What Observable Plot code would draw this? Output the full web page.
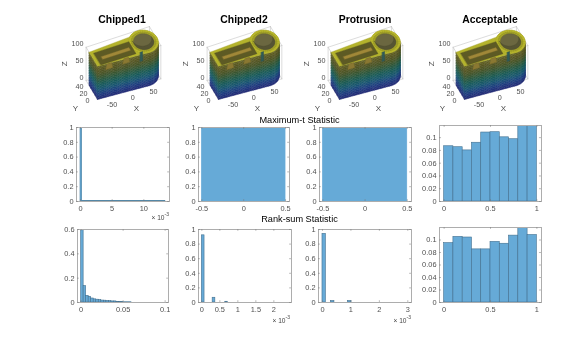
<!DOCTYPE html>
<html><head><meta charset="utf-8">
<script src="https://cdn.jsdelivr.net/npm/d3@7"></script>
<script src="https://cdn.jsdelivr.net/npm/@observablehq/plot@0.6"></script>
<style>
html,body{margin:0;padding:0;background:#fff;}
#c{position:relative;width:588px;height:340px;overflow:hidden;font-family:"Liberation Sans",Arial,sans-serif;filter:blur(.3px);}
#c svg{position:absolute;background:transparent;overflow:visible;}
.t{position:absolute;transform:translate(-50%,-50%);white-space:nowrap;color:#000;}
.m{position:absolute;font-size:6.6px;color:#444;white-space:nowrap;transform:translate(-100%,-50%);}
.m sup{font-size:5px;line-height:0;}
</style></head><body><div id="c"></div>
<script>
// ---------- titles
const partTitles = ["Chipped1","Chipped2","Protrusion","Acceptable"];
const partCentres = [122,244,365,490];
const partAnchors = [96.7,218,339.3,464];
const sections = ["Maximum-t Statistic","Rank-sum Statistic"];

// ---------- histogram values
// row 2: maximum-t statistic
const maxt1Edges = [0,0.27,13.4];
const maxt1Vals  = [1,0.006];
const maxt2Edges = [-0.5,0.5];
const maxt2Vals  = [1];
const maxt3Edges = [-0.5,0.5];
const maxt3Vals  = [1];
const maxt4Edges = [0,0.1,0.2,0.3,0.4,0.5,0.6,0.7,0.8,0.9,1];
const maxt4Vals  = [0.0865,0.085,0.08,0.092,0.108,0.1085,0.1005,0.0975,0.125,0.125];
// row 3: rank-sum statistic
const rank1Edges = [0,0.003,0.006,0.009,0.012,0.015,0.018,0.021,0.024,0.027,0.03,0.033,0.036,0.039,0.042,0.045,0.05,0.06];
const rank1Vals  = [0.65,0.135,0.055,0.047,0.033,0.026,0.023,0.02,0.016,0.015,0.013,0.011,0.009,0.009,0.005,0.004,0.002];
const rank2Edges = [0,0.075,0.3,0.375,0.65,0.72];
const rank2Vals  = [0.92,0,0.065,0,0.01];
const rank3Edges = [0,0.12,0.3,0.42,0.9,1.02];
const rank3Vals  = [0.94,0,0.02,0,0.02];
const rank4Edges = maxt4Edges;
const rank4Vals  = [0.095,0.105,0.104,0.085,0.085,0.097,0.094,0.107,0.125,0.108];

// ---------- 3D part model (X, Y, Z in the part's axes)
const boxX = [-85,68], boxY = [0,57], boxZ = [0,100];
const xTicks3d = [-50,0,50], yTicks3d = [0,20,40], zTicks3d = [0,50,100];
const hubX = 38, hubY = 24, hubR = 32, holeR = 22;
const frontEnd = [38,-8];
const backEdge = [[-85,42],[14,47]];
const pocket = [[-77,0],[8,0],[8,36],[-77,36]];
const shelf = [[-66,13],[1,13],[1,21],[-66,21]];
const windows = [[-65,-48],[-24,-7]];
const slotX = [18,24], slotZ = [72,100];
const wallStops = [[0,"#242a78"],[15,"#213f88"],[30,"#1b5a78"],[45,"#1a5f5c"],[60,"#305c40"],[75,"#4c5a2a"],[90,"#5d5a24"],[100,"#6a6826"]];

const root = document.getElementById("c");
const proj = (X,Y,Z) => [0.414*(X+85) - 0.2*Y, -0.135*(X+85) - 0.333*Y - 0.333*Z];
function wallColor(z){
  const xs = wallStops.map(d=>d[0]);
  const i = Math.min(d3.bisectRight(xs,z),xs.length-1);
  const a = wallStops[i-1]||wallStops[0], b = wallStops[i];
  return d3.interpolateRgb(a[1],b[1])(b[0]===a[0]?0:(z-a[0])/(b[0]-a[0]));
}
function buildPart(){
  const rows=[]; let id=0;
  const poly=(pts,fill)=>{const k=id++;for(const p of pts){const [x,y]=proj(...p);rows.push({id:k,x,y,fill});}};
  const zs=d3.range(0,100,5);
  const wall=(a,b)=>{ for(const z of zs){ poly([[a[0],a[1],z],[b[0],b[1],z],[b[0],b[1],z+5],[a[0],a[1],z+5]],wallColor(z+2.5)); } };
  const deg=Math.PI/180;
  const at=(r,t)=>[hubX+r*Math.cos(t*deg),hubY+r*Math.sin(t*deg)];
  // right side of the hub, seen from the front
  for(let t=-26;t>-90;t-=8) wall(at(hubR,t-8),at(hubR,t));
  // long front wall
  const n=24;
  for(let i=n-1;i>=0;i--){
    const p=i/n,q=(i+1)/n;
    wall([-85+p*(frontEnd[0]+85),p*frontEnd[1]],[-85+q*(frontEnd[0]+85),q*frontEnd[1]]);
  }
  // left end wall
  for(let i=0;i<4;i++) wall([-85,(i+1)*10.5],[-85,i*10.5]);
  // top plan
  const plan=[[-85,0,100],[frontEnd[0],frontEnd[1],100]];
  for(let t=-90;t<=130;t+=10){const p=at(hubR,t);plan.push([p[0],p[1],100]);}
  for(const p of [backEdge[1],backEdge[0]]) plan.push([p[0],p[1],100]);
  poly(plan,"#b4b32c");
  // hub ring
  for(let t=0;t<360;t+=10){
    const p=at(hubR,t),q=at(hubR,t+10),u=at(holeR,t+10),v=at(holeR,t);
    const m=at((hubR+holeR)/2,t),w=at((hubR+holeR)/2,t+10);
    poly([[p[0],p[1],100],[q[0],q[1],100],[w[0],w[1],100],[m[0],m[1],100]],"#bdbc2e");
    poly([[m[0],m[1],100],[w[0],w[1],100],[u[0],u[1],100],[v[0],v[1],100]],"#a5a42a");
  }
  // hole
  const hole=[]; for(let t=0;t<360;t+=10){const p=at(holeR,t);hole.push([p[0],p[1],100]);}
  poly(hole,"#6b6740");
  const low=[]; for(let t=180;t<360;t+=10){const p=at(holeR,t);low.push([p[0],p[1],100]);} for(let t=350;t>=180;t-=10){const p=at(holeR,t);low.push([p[0],p[1]+10,100]);}
  poly(low,"#565433");
  // pocket, shelf and windows
  poly(pocket.map(p=>[p[0],p[1],100]),"#5d5a24");
  poly(shelf.map(p=>[p[0],p[1],100]),"#a08838");
  for(const [a,b] of windows){
    poly([[a+3,0,97],[b-3,0,97],[b,0,81],[a,0,81]],"#8a7832");
  }
  poly([[slotX[0],0,slotZ[1]],[slotX[1],0,slotZ[1]],[slotX[1],0,slotZ[0]],[slotX[0],0,slotZ[0]]],"#2f5a58");
  return rows;
}
function boxLines(){
  const rows=[]; let id=0;
  const [x0,x1]=boxX,[y0,y1]=boxY,[z0,z1]=boxZ;
  const seg=(a,b)=>{const k=id++;for(const p of [a,b]){const [x,y]=proj(...p);rows.push({id:k,x,y});}};
  for(const y of [y0,y1]) for(const z of [z0,z1]) seg([x0,y,z],[x1,y,z]);
  for(const x of [x0,x1]) for(const z of [z0,z1]) seg([x,y0,z],[x,y1,z]);
  for(const x of [x0,x1]) for(const y of [y0,y1]) seg([x,y,z0],[x,y,z1]);
  return rows;
}
const partRows = buildPart(), boxRows = boxLines();
const tick3d=(vals,f)=>vals.map(v=>{const [x,y]=proj(...f(v));return {x,y,label:String(v)};});
const ink="#505050";
function part3d(i){
  const W=130,H=110,ox=40,oy=88;
  const zt=tick3d(zTicks3d,z=>[boxX[0],boxY[1],z]);
  const yt=tick3d(yTicks3d,y=>[boxX[0],y,0]);
  const xt=tick3d(xTicks3d,x=>[x,0,0]);
  const lab=(p,t)=>{const [x,y]=proj(...p);return [{x,y,label:t}];};
  const txt={fill:ink,fontSize:7.2,fontFamily:"Liberation Sans",x:"x",y:"y",text:"label"};
  const svg=Plot.plot({
    width:W,height:H,margin:0,
    x:{domain:[-ox,W-ox],range:[0,W],axis:null},
    y:{domain:[-oy,H-oy],range:[0,H],axis:null},
    marks:[
      Plot.line(boxRows,{x:"x",y:"y",z:"id",stroke:"#c4c4c4",strokeWidth:0.6}),
      Plot.line(partRows,{x:"x",y:"y",z:"id",fill:d=>d.fill,stroke:d=>d3.color(d.fill).darker(0.35).formatHex(),strokeWidth:0.35,curve:"linear-closed"}),
      Plot.text(zt,{...txt,textAnchor:"end",dx:-2.5,dy:-3.3}),
      Plot.text(yt,{...txt,dx:-10,dy:1}),
      Plot.text(xt,{...txt,dy:10}),
      Plot.text(lab([0,0,0],"X"),{...txt,fontSize:8,dx:3.7,dy:20.8}),
      Plot.text(lab([boxX[0],30,0],"Y"),{...txt,fontSize:8,dx:-16,dy:19}),
      Plot.text(lab([boxX[0],boxY[1],50],"Z"),{...txt,fontSize:8,dx:-22,rotate:-90})
    ]
  });
  svg.style.left=(partAnchors[i]-ox)+"px";
  svg.style.top=(99-oy)+"px";
  root.appendChild(svg);
}
function hist(o){
  const {L,R,T,B,edges,vals,xd,yd,xt,yt,fill="#66aad7",xf}=o;
  const ml=30,mb=14,mt=4,mr=6;
  const bars=vals.map((v,i)=>({a:edges[i],b:edges[i+1],v})).filter(d=>d.v>0);
  const tickY=(yd[1]-yd[0])*0.025, tickX=(xd[1]-xd[0])*0.02;
  const svg=Plot.plot({
    width:R-L+ml+mr,height:B-T+mt+mb,marginLeft:ml,marginRight:mr,marginTop:mt,marginBottom:mb,
    x:{domain:xd,axis:null},
    y:{domain:yd,axis:null},
    style:{fontFamily:"Liberation Sans",fontSize:"7.4px",color:ink},
    marks:[
      Plot.rectY(bars,{x1:"a",x2:"b",y:"v",fill,stroke:o.edge||"#43708f",strokeWidth:o.sw??0.6,clip:true}),
      Plot.frame({stroke:"#adadad",strokeWidth:1}),
      Plot.ruleX(xt,{x:d=>d,y1:yd[0],y2:yd[0]+tickY,stroke:"#777",strokeWidth:.5}),
      Plot.ruleX(xt,{x:d=>d,y1:yd[1],y2:yd[1]-tickY,stroke:"#777",strokeWidth:.5}),
      Plot.ruleY(yt,{y:d=>d,x1:xd[0],x2:xd[0]+tickX,stroke:"#777",strokeWidth:.5}),
      Plot.ruleY(yt,{y:d=>d,x1:xd[1],x2:xd[1]-tickX,stroke:"#777",strokeWidth:.5}),
      Plot.axisX({ticks:xt,tickSize:0,tickPadding:4.5,fontSize:7.4,fill:ink,label:null,tickFormat:xf||(d=>String(d))}),
      Plot.axisY({ticks:yt,tickSize:0,tickPadding:3,fontSize:7.4,fill:ink,label:null,tickFormat:d=>String(d)})
    ]
  });
  svg.style.left=(L-ml)+"px";
  svg.style.top=(T-mt)+"px";
  root.appendChild(svg);
}
function label(text,x,y,size,weight){
  const d=document.createElement("div");d.className="t";d.textContent=text;
  d.style.left=x+"px";d.style.top=y+"px";d.style.fontSize=size+"px";d.style.fontWeight=weight;root.appendChild(d);
}
function mult(x,y){const d=document.createElement("div");d.className="m";d.innerHTML="× 10<sup>-3</sup>";d.style.left=x+"px";d.style.top=y+"px";root.appendChild(d);}

partTitles.forEach((t,i)=>{label(t,partCentres[i],19,10.4,"700");part3d(i);});
label(sections[0],299.5,119.5,9.2,"400");
label(sections[1],299.5,219,9.2,"400");

const y01=[0,0.2,0.4,0.6,0.8,1];
const yp=[0,0.02,0.04,0.06,0.08,0.1];
hist({L:76,R:169,T:127,B:201,edges:maxt1Edges,vals:maxt1Vals,xd:[-0.63,14.05],yd:[0,1],xt:[0,5,10],yt:y01,edge:"#4b7f9f"});
hist({L:198,R:289,T:127,B:201,edges:maxt2Edges,vals:maxt2Vals,xd:[-0.54,0.547],yd:[0,1],xt:[-0.5,0,0.5],yt:y01,edge:"#66aad7"});
hist({L:319,R:411,T:127,B:201,edges:maxt3Edges,vals:maxt3Vals,xd:[-0.54,0.55],yd:[0,1],xt:[-0.5,0,0.5],yt:y01,edge:"#66aad7"});
hist({L:439,R:541,T:125,B:201,edges:maxt4Edges,vals:maxt4Vals,xd:[-0.05,1.05],yd:[0,0.119],xt:[0,0.5,1],yt:yp});
hist({L:77,R:168,T:229,B:302,edges:rank1Edges,vals:rank1Vals,xd:[-0.0043,0.104],yd:[0,0.6],xt:[0,0.05,0.1],yt:[0,0.2,0.4,0.6]});
hist({L:198,R:291,T:229,B:302,edges:rank2Edges,vals:rank2Vals,xd:[-0.093,2.49],yd:[0,1],xt:[0,0.5,1,1.5,2],yt:y01});
hist({L:318,R:411,T:229,B:302,edges:rank3Edges,vals:rank3Vals,xd:[-0.14,3.13],yd:[0,1],xt:[0,1,2,3],yt:y01});
hist({L:439,R:541,T:227,B:302,edges:rank4Edges,vals:rank4Vals,xd:[-0.05,1.05],yd:[0,0.12],xt:[0,0.5,1],yt:yp});
mult(169,217);mult(290,320);mult(411,320);
</script></body></html>
